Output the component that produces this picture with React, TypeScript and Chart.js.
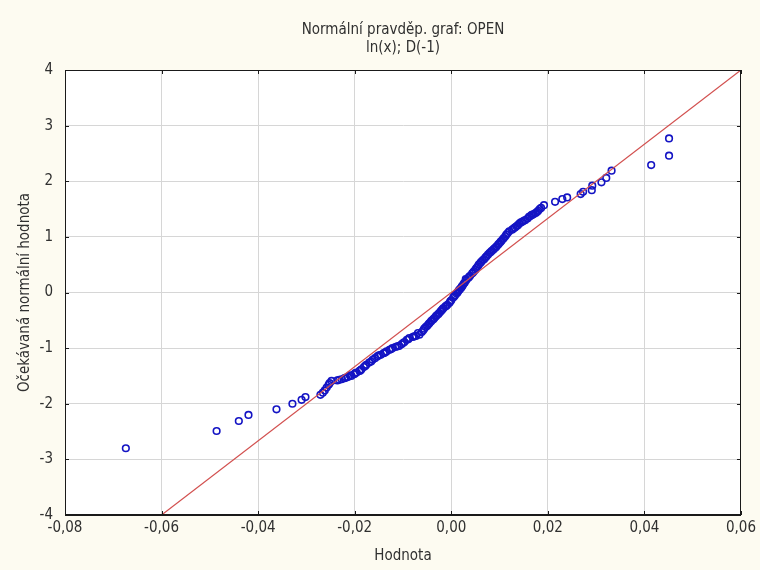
import React, { useEffect, useRef } from "react";
import { Chart, registerables } from "chart.js";

Chart.register(...registerables);

// Observed values (x) and expected normal values (y) - main trace
const sampleValues = [
  -0.0674, -0.0486, -0.044, -0.042, -0.0362, -0.0329, -0.031, -0.0302, -0.0271, -0.0266,
  -0.0262, -0.0258, -0.0254, -0.0252, -0.0248, -0.0236, -0.0227, -0.0221, -0.0214, -0.0207,
  -0.0201, -0.0196, -0.019, -0.0186, -0.0181, -0.0176, -0.017, -0.0163, -0.0158, -0.0153,
  -0.0146, -0.014, -0.0134, -0.0128, -0.0122, -0.0116, -0.0108, -0.0103, -0.0097, -0.0092,
  -0.0087, -0.008, -0.0073, -0.0066, -0.0061, -0.0056, -0.005, -0.0045, -0.004, -0.0035,
  -0.003, -0.0025, -0.002, -0.0016, -0.0012, -0.0008, -0.0004, 0.0, 0.0004, 0.0008,
  0.0013, 0.0017, 0.0021, 0.0024, 0.0028, 0.0031, 0.0035, 0.0039, 0.0043, 0.0047,
  0.0052, 0.0057, 0.0062, 0.0068, 0.0073, 0.0079, 0.0084, 0.0089, 0.0094, 0.0099,
  0.0104, 0.0109, 0.0114, 0.012, 0.0126, 0.0132, 0.0138, 0.0141, 0.0147, 0.0153,
  0.0158, 0.0161, 0.0166, 0.0171, 0.0175, 0.018, 0.0186, 0.0192, 0.0215, 0.023,
  0.024, 0.0268, 0.0273, 0.0291, 0.0292, 0.0311, 0.0321, 0.0332, 0.0414, 0.0451,
  0.0451,
];
const expectedNormal = [
  -2.8, -2.49, -2.31, -2.2, -2.1, -2.0, -1.93, -1.88, -1.84, -1.8,
  -1.76, -1.71, -1.66, -1.63, -1.59, -1.58, -1.56, -1.54, -1.52, -1.5,
  -1.47, -1.44, -1.41, -1.38, -1.34, -1.3, -1.26, -1.21, -1.18, -1.15,
  -1.12, -1.09, -1.06, -1.03, -1.0, -0.98, -0.96, -0.93, -0.89, -0.85,
  -0.82, -0.8, -0.78, -0.76, -0.71, -0.65, -0.6, -0.55, -0.5, -0.46,
  -0.41, -0.37, -0.32, -0.28, -0.25, -0.22, -0.19, -0.14, -0.09, -0.05,
  0.0, 0.05, 0.09, 0.13, 0.18, 0.22, 0.26, 0.3, 0.34, 0.38,
  0.44, 0.5, 0.55, 0.6, 0.65, 0.71, 0.75, 0.79, 0.83, 0.88,
  0.93, 0.98, 1.04, 1.1, 1.13, 1.17, 1.21, 1.24, 1.27, 1.3,
  1.33, 1.36, 1.39, 1.41, 1.43, 1.47, 1.52, 1.57, 1.63, 1.68,
  1.71, 1.77, 1.81, 1.84, 1.92, 1.98, 2.06, 2.19, 2.29, 2.46,
  2.77,
];

// Further observations in the dense central band
const sampleValuesDense = [
  -0.0232, -0.0218, -0.021, -0.0199, -0.0188, -0.0178, -0.0166, -0.015, -0.0137, -0.0125,
  -0.0112, -0.01, -0.0089, -0.0077, -0.0069, -0.0058, -0.0053, -0.0047, -0.0042, -0.0037,
  -0.0032, -0.0027, -0.0022, -0.0018, -0.001, -0.0002, 0.0006, 0.0011, 0.0015, 0.0019,
  0.0022, 0.0026, 0.003, 0.0037, 0.0045, 0.005, 0.0055, 0.006, 0.0065, 0.0071,
  0.0076, 0.0082, 0.0087, 0.0092, 0.0097, 0.0102, 0.0107, 0.0112, 0.0117, 0.0129,
  0.0135, 0.0144, 0.015, 0.0163, 0.0168, 0.0178, 0.0183,
];
const expectedNormalDense = [
  -1.57, -1.53, -1.49, -1.45, -1.4, -1.32, -1.24, -1.13, -1.08, -1.02,
  -0.97, -0.91, -0.84, -0.79, -0.73, -0.68, -0.62, -0.57, -0.52, -0.48,
  -0.43, -0.39, -0.34, -0.3, -0.24, -0.16, -0.07, -0.02, 0.03, 0.07,
  0.11, 0.16, 0.24, 0.28, 0.36, 0.41, 0.47, 0.53, 0.58, 0.63,
  0.68, 0.73, 0.77, 0.81, 0.86, 0.91, 0.96, 1.01, 1.07, 1.15,
  1.19, 1.26, 1.29, 1.37, 1.4, 1.45, 1.5,
];

// Reference normal line
const fitLineX = [-0.06, 0.06];
const fitLineY = [-4, 4];

const xTickValues = [-0.08, -0.06, -0.04, -0.02, 0, 0.02, 0.04, 0.06];
const yTickValues = [-4, -3, -2, -1, 0, 1, 2, 3, 4];

const titleLines = ["Normální pravděp. graf: OPEN", "ln(x); D(-1)"];
const xAxisTitle = "Hodnota";
const yAxisTitle = "Očekávaná normální hodnota";

const FONT = "'Liberation Sans Narrow', 'Arial Narrow', 'DejaVu Sans Condensed', 'Liberation Sans', sans-serif";
const TEXT_COLOR = "#303030";

function fmtX(v: number): string {
  const n = Math.abs(v) < 1e-9 ? 0 : v;
  return n.toFixed(2).replace(".", ",");
}

const framePlugin = {
  id: "frame",
  beforeDraw(chart: any) {
    const { ctx, chartArea } = chart;
    ctx.save();
    ctx.fillStyle = "#fdfbf1";
    ctx.fillRect(0, 0, chart.width, chart.height);
    ctx.fillStyle = "#ffffff";
    ctx.fillRect(chartArea.left, chartArea.top, chartArea.right - chartArea.left, chartArea.bottom - chartArea.top);
    ctx.restore();
  },
  afterDraw(chart: any) {
    const { ctx, chartArea, scales } = chart;
    const { left, right, top, bottom } = chartArea;
    ctx.save();
    ctx.strokeStyle = "#1a1a1a";
    ctx.lineWidth = 1;
    ctx.strokeRect(Math.round(left) + 0.5, Math.round(top) + 0.5, Math.round(right - left) - 1, Math.round(bottom - top) - 1);
    ctx.beginPath();
    for (const v of xTickValues) {
      const px = Math.round(scales.x.getPixelForValue(v)) + 0.5;
      ctx.moveTo(px, bottom);
      ctx.lineTo(px, bottom - 4);
      ctx.moveTo(px, top);
      ctx.lineTo(px, top + 4);
    }
    for (const v of yTickValues) {
      const py = Math.round(scales.y.getPixelForValue(v)) + 0.5;
      ctx.moveTo(left, py);
      ctx.lineTo(left + 4, py);
      ctx.moveTo(right, py);
      ctx.lineTo(right - 4, py);
    }
    ctx.stroke();
    ctx.fillStyle = TEXT_COLOR;
    ctx.font = `15px ${FONT}`;
    ctx.textAlign = "center";
    ctx.textBaseline = "middle";
    const cx = (left + right) / 2;
    ctx.fillText(titleLines[0], cx, 30);
    ctx.fillText(titleLines[1], cx, 48);
    ctx.restore();
  },
};

export default function App() {
  const canvasRef = useRef<HTMLCanvasElement | null>(null);

  useEffect(() => {
    document.body.style.margin = "0";
    const canvas = canvasRef.current;
    if (!canvas) return;
    const points = sampleValues
      .map((x, i) => ({ x, y: expectedNormal[i] }))
      .concat(sampleValuesDense.map((x, i) => ({ x, y: expectedNormalDense[i] })));
    const linePts = fitLineX.map((x, i) => ({ x, y: fitLineY[i] }));
    const chart = new Chart(canvas, {
      type: "scatter",
      data: {
        datasets: [
          {
            type: "line",
            data: linePts,
            borderColor: "#d2504f",
            borderWidth: 1.2,
            pointRadius: 0,
            showLine: true,
            fill: false,
          } as any,
          {
            data: points,
            pointStyle: "circle",
            pointRadius: 3.3,
            pointBorderWidth: 1.6,
            pointBorderColor: "#1414c4",
            pointBackgroundColor: "rgba(0,0,0,0)",
            borderColor: "#1414c4",
            backgroundColor: "rgba(0,0,0,0)",
          } as any,
        ],
      },
      options: {
        responsive: false,
        animation: false,
        devicePixelRatio: 1,
        layout: { padding: { left: 0, top: 70, right: 18, bottom: 0 } },
        plugins: {
          legend: { display: false },
          tooltip: { enabled: false },
          title: { display: false },
        },
        scales: {
          x: {
            type: "linear",
            min: -0.08,
            max: 0.06,
            afterBuildTicks: (s: any) => {
              s.ticks = xTickValues.map((v) => ({ value: v }));
            },
            afterFit: (s: any) => {
              s.height = 55;
            },
            ticks: {
              callback: (v: any) => fmtX(Number(v)),
              font: { family: FONT, size: 15 },
              color: TEXT_COLOR,
              padding: 4,
              maxRotation: 0,
              autoSkip: false,
            },
            grid: { color: "#d6d6d6", drawTicks: false, lineWidth: 1 },
            border: { display: true, color: "#1a1a1a" },
            title: {
              display: true,
              text: xAxisTitle,
              font: { family: FONT, size: 15 },
              color: TEXT_COLOR,
              padding: { top: 0, bottom: 5 },
            },
          },
          y: {
            type: "linear",
            min: -4,
            max: 4,
            afterBuildTicks: (s: any) => {
              s.ticks = yTickValues.map((v) => ({ value: v }));
            },
            afterFit: (s: any) => {
              s.width = 65;
            },
            ticks: {
              callback: (v: any) => String(v),
              font: { family: FONT, size: 15 },
              color: TEXT_COLOR,
              padding: 12,
              autoSkip: false,
            },
            grid: { color: "#d6d6d6", drawTicks: false, lineWidth: 1 },
            border: { display: true, color: "#1a1a1a" },
            title: {
              display: true,
              text: yAxisTitle,
              font: { family: FONT, size: 15 },
              color: TEXT_COLOR,
              padding: { top: 16, bottom: 0 },
            },
          },
        },
      } as any,
      plugins: [framePlugin],
    });
    return () => chart.destroy();
  }, []);

  return (
    <div style={{ width: 760, height: 570 }}>
      <canvas ref={canvasRef} width={760} height={570} style={{ display: "block" }} />
    </div>
  );
}
